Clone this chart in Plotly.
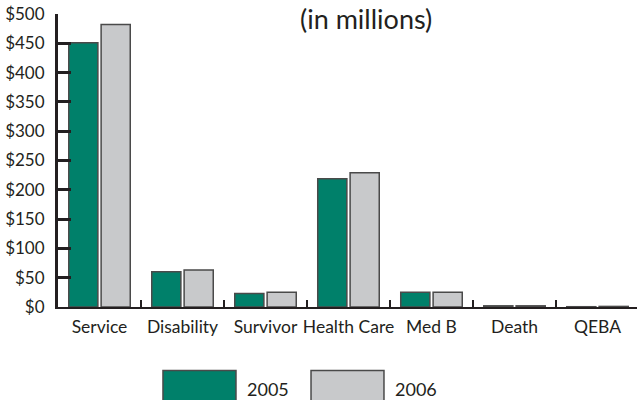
import plotly.graph_objects as go

# Benefit categories and annual amounts ($ millions)
categories = ["Service", "Disability", "Survivor", "Health Care", "Med B", "Death", "QEBA"]
values_2005 = [451, 60, 23, 219, 25, 2, 0.5]
values_2006 = [482, 63, 25, 229, 25, 2, 1]
years = ["2005", "2006"]
y_ticks = [0, 50, 100, 150, 200, 250, 300, 350, 400, 450, 500]
y_tick_text = ["$" + str(v) for v in y_ticks]

GREEN = "#00806a"
GRAY = "#c8c9cb"
OUTLINE = "#4a4a4a"
INK = "#231f20"
FONT = "Lato"

fig = go.Figure()
for name, vals, color in [(years[0], values_2005, GREEN), (years[1], values_2006, GRAY)]:
    fig.add_trace(go.Bar(
        x=categories, y=vals, name=name,
        marker=dict(color=color, line=dict(color=OUTLINE, width=1.5)),
        showlegend=False,
    ))

fig.update_layout(
    width=637, height=400,
    margin=dict(l=58, r=0, t=14, b=93),
    paper_bgcolor="white", plot_bgcolor="white",
    barmode="group", bargap=0.22, bargroupgap=0.1,
    font=dict(family=FONT, size=17, color=INK),
    xaxis=dict(
        type="category", range=[-0.5, 6.476],
        showline=True, linecolor=INK, linewidth=2,
        ticks="inside", tickson="boundaries", ticklen=7, tickwidth=2, tickcolor=INK,
        tickangle=0, ticklabelstandoff=3,
        showgrid=False, zeroline=False,
        tickfont=dict(family=FONT, size=17.5, color=INK),
    ),
    yaxis=dict(
        range=[0, 500], tickvals=y_ticks, ticktext=y_tick_text,
        showline=True, linecolor=INK, linewidth=3,
        ticks="inside", ticklen=13, tickwidth=3, tickcolor=INK,
        ticklabelstandoff=7,
        showgrid=False, zeroline=False,
        tickfont=dict(family=FONT, size=17, color=INK),
    ),
)

# Chart subtitle
fig.add_annotation(
    text="(in millions)", xref="paper", yref="paper",
    x=0.532, y=1.048, xanchor="center", yanchor="top",
    showarrow=False, font=dict(family=FONT, size=27, color=INK),
)

# Legend drawn below the axis: swatch boxes with year labels
swatches = [(0.1813, 0.3074, GREEN, 0.323, years[0]),
            (0.437, 0.563, GRAY, 0.5786, years[1])]
for x0, x1, color, tx, label in swatches:
    fig.add_shape(type="rect", xref="paper", yref="paper",
                  x0=x0, x1=x1, y0=-0.217, y1=-0.34,
                  fillcolor=color, line=dict(color=OUTLINE, width=1.5))
    fig.add_annotation(text=label, xref="paper", yref="paper",
                       x=tx, y=-0.28, xanchor="left", yanchor="middle",
                       showarrow=False, font=dict(family=FONT, size=18, color=INK))

fig.write_html("out.html")
